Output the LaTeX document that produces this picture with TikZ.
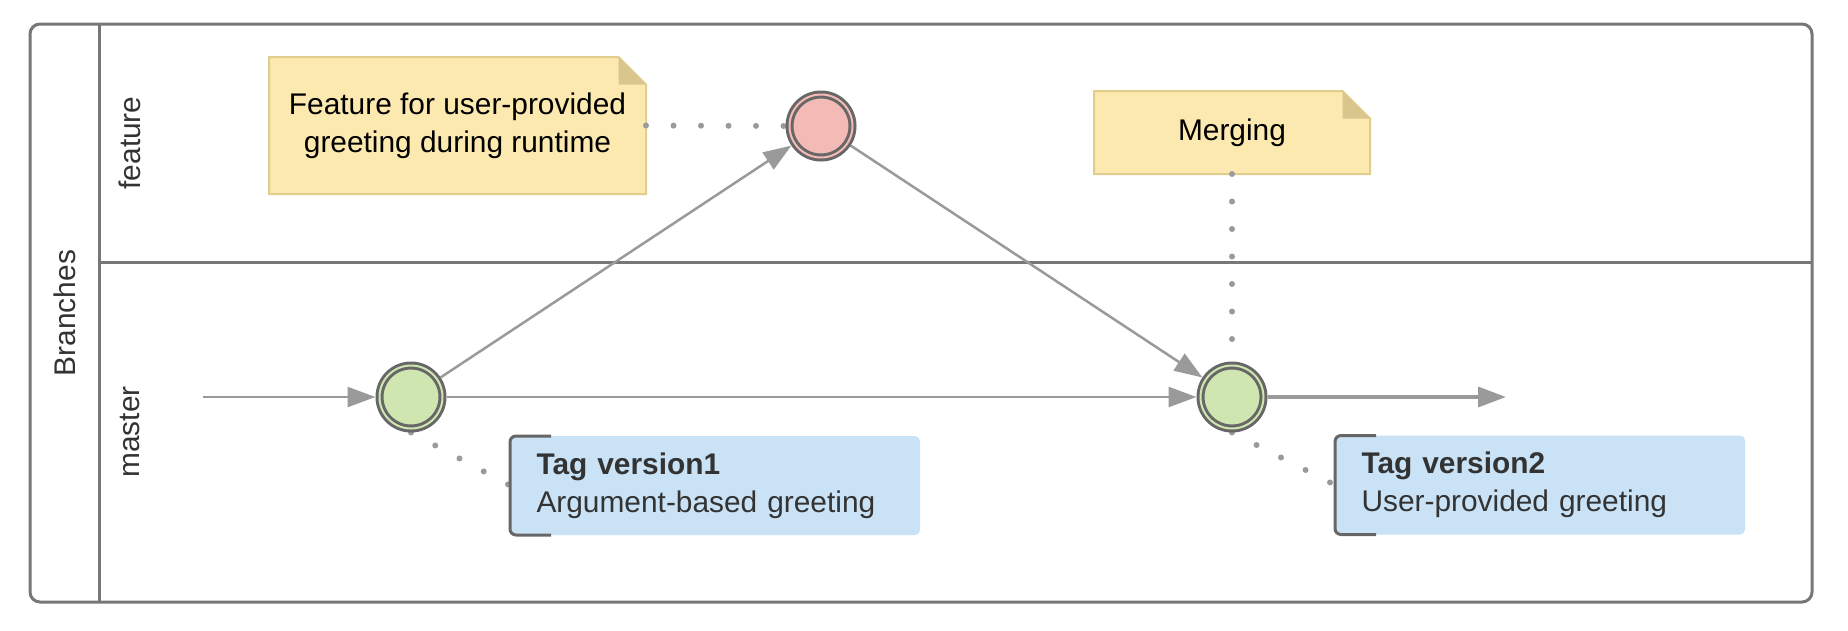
\documentclass[tikz,border=0pt]{standalone}
\usepackage{fontspec}
\setmainfont{Liberation Sans}
\usepackage{xcolor}
\usetikzlibrary{arrows.meta,positioning,backgrounds}

\definecolor{lanegray}{HTML}{777777}
\definecolor{flowgray}{HTML}{9A9A9A}
\definecolor{ringgray}{HTML}{676767}
\definecolor{commitgreen}{HTML}{D0E6B1}
\definecolor{commitpink}{HTML}{F4BBB6}
\definecolor{notefill}{HTML}{FCE9AF}
\definecolor{noteedge}{HTML}{E2CE8C}
\definecolor{notefoldc}{HTML}{D9C68C}
\definecolor{tagfill}{HTML}{C9E2F5}
\definecolor{tagedge}{HTML}{666666}
\definecolor{textgray}{HTML}{333333}

\newcommand{\notepaper}[1]{%
  \filldraw[fill=notefill, draw=noteedge, line width=0.04cm]
    (#1.north west) -- ([xshift=-0.55cm]#1.north east) -- ([yshift=-0.55cm]#1.north east)
    -- (#1.south east) -- (#1.south west) -- cycle;
  \fill[notefoldc] ([xshift=-0.55cm]#1.north east) -- ([xshift=-0.55cm,yshift=-0.55cm]#1.north east)
    -- ([yshift=-0.55cm]#1.north east) -- cycle;}
\newcommand{\tagbracket}[1]{%
  \draw[tagedge, line width=0.06cm, rounded corners=0.12cm]
    ([xshift=0.82cm]#1.north west) -- (#1.north west) -- (#1.south west) -- ([xshift=0.82cm]#1.south west);}

\begin{document}
\begin{tikzpicture}[
    font=\fontsize{17}{21.5}\selectfont,
    commit/.style={circle, minimum size=1.26cm, inner sep=0pt, outer sep=0.08cm, fill=#1, draw=ringgray, line width=0.06cm, double=#1, double distance=0.04cm},
    note/.style={inner sep=0pt, outer sep=0pt, align=center, text=black},
    tag/.style={fill=tagfill, rounded corners=0.1cm, text width=7.14cm, inner xsep=0.53cm, inner ysep=0pt, outer sep=0pt, minimum height=1.98cm, align=left, text=textgray},
    lane/.style={rotate=90, text=textgray},
    flow/.style={draw=flowgray, line width=0.05cm, -{Triangle[length=0.56cm,width=0.4cm]}},
    assoc/.style={draw=flowgray, line width=0.12cm, line cap=round, dash pattern=on 0pt off 0.55cm},
]
\useasboundingbox (0,0) rectangle (36.96,-12.6);

% Pool and lanes
\draw[lanegray, line width=0.06cm, rounded corners=0.2cm] (0.6,-0.48) rectangle (36.24,-12.04);
\draw[lanegray, line width=0.06cm] (1.98,-0.48) -- (1.98,-12.04);
\draw[lanegray, line width=0.06cm] (1.98,-5.24) -- (36.24,-5.24);

\node[lane] (branches) at (1.29,-6.26) {Branches};
\node[lane] (featurelane) at (2.6,-2.86) {feature};
\node[lane] (masterlane) at (2.6,-8.64) {master};

% Commits
\node[commit=commitgreen] (v1) at (8.22,-7.94) {};
\node[commit=commitpink] (feat) at (16.42,-2.52) {};
\node[commit=commitgreen] (v2) at (24.64,-7.94) {};
\coordinate (in) at (4.06,-7.94);
\coordinate (out) at (30.12,-7.94);

% Notes
\node[note, minimum width=7.54cm, minimum height=2.74cm] (featnote) at (9.15,-2.51) {Feature for user-provided\\greeting during runtime};
\node[note, minimum width=5.52cm, minimum height=1.66cm] (mergenote) at (24.64,-2.65) {Merging};

% Tags
\node[tag] (tag1) at (14.3,-9.71) {\textbf{Tag version1}\\Argument-based greeting};
\node[tag] (tag2) at (30.8,-9.7) {\textbf{Tag version2}\\User-provided greeting};
\tagbracket{tag1}
\tagbracket{tag2}

\begin{scope}[on background layer]
  \notepaper{featnote}
  \notepaper{mergenote}
  \draw[assoc] (featnote.east) -- (feat.west);
  \draw[assoc] (mergenote.south) -- (v2.north);
  \draw[assoc] (v1.south) -- (tag1.west);
  \draw[assoc] (v2.south) -- (tag2.west);
\end{scope}

% Flow
\draw[flow] (in) -- (v1);
\draw[flow] (v1) -- (feat);
\draw[flow] (v1) -- (v2);
\draw[flow] (feat) -- (v2);
\draw[flow, line width=0.07cm] (v2) -- (out);

\end{tikzpicture}
\end{document}
